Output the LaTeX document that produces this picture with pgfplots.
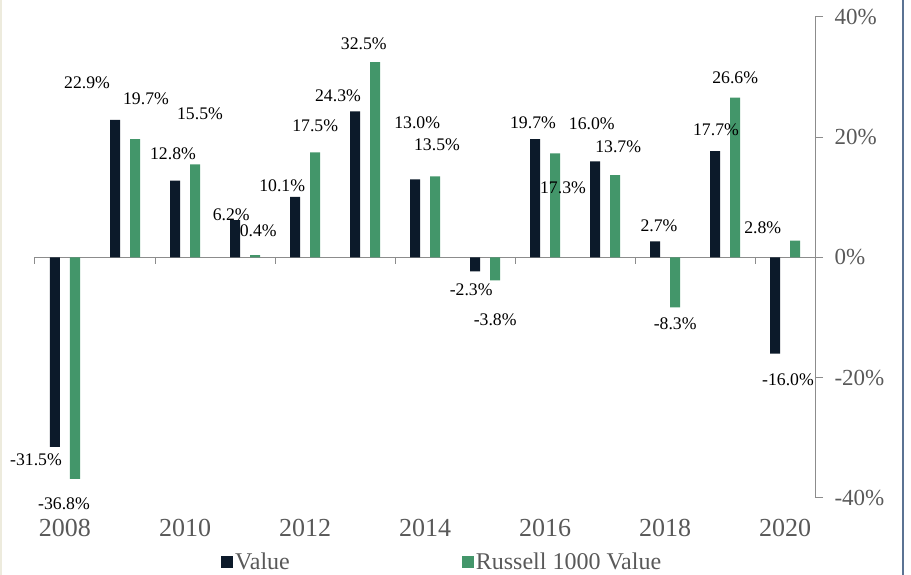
\documentclass[border=0pt]{standalone}
\usepackage{pgfplots}
\pgfplotsset{compat=1.18}
\usepackage{fontspec}
\setmainfont{LiberationSerif}[Extension=.ttf, UprightFont=*-Regular, BoldFont=*-Bold, ItalicFont=*-Italic, BoldItalicFont=*-BoldItalic]
\definecolor{darkbar}{HTML}{0C1A2A}
\definecolor{greenbar}{HTML}{43966A}
\definecolor{axgray}{HTML}{8C8C8C}
\definecolor{labgray}{HTML}{595959}
\definecolor{frameblue}{HTML}{5B7393}
\definecolor{framebeige}{HTML}{EDEBDD}
\begin{document}
\begin{tikzpicture}
\useasboundingbox (0pt,0pt) rectangle (911pt,575pt);
\fill[framebeige] (0pt,0pt) rectangle (2pt,575pt);
\fill[frameblue] (902pt,0pt) rectangle (904pt,575pt);
\begin{axis}[
  at={(35pt,77pt)}, anchor=south west,
  scale only axis, width=780pt, height=481pt,
  xmin=-0.5, xmax=12.5, ymin=-40, ymax=40,
  clip=false,
  axis y line*=right, axis x line*=bottom,
  x axis line style={draw=none},
  y axis line style={draw=axgray, line width=1pt, -},
  xtick={0,2,...,12}, xticklabels={2008,2010,2012,2014,2016,2018,2020},
  major x tick style={draw=none},
  ytick={-40,-20,0,20,40}, yticklabels={-40\%,-20\%,0\%,20\%,40\%},
  major y tick style={draw=axgray, line width=1pt},
  xtick align=inside, ytick align=outside, major tick length=8pt,
  xticklabel style={font=\fontsize{26}{26}\selectfont, text=labgray, anchor=base, yshift=-39pt},
  yticklabel style={font=\fontsize{23}{23}\selectfont, text=labgray, anchor=west, xshift=8pt},
  legend style={at={(0.2385,-0.133)}, anchor=west, draw=none, fill=none, inner sep=0pt,
    font=\fontsize{24}{24}\selectfont, text=labgray, legend columns=2,
    /tikz/every even column/.append style={column sep=170pt}},
  legend cell align=left,
  legend image code/.code={\fill[#1] (0pt,-6pt) rectangle (12pt,6pt);},
]
\draw[axgray, line width=1pt] (axis cs:-0.5,0) -- (axis cs:12.5,0);
\pgfplotsinvokeforeach{-0.5,1.5,3.5,5.5,7.5,9.5,11.5}{\draw[axgray, line width=1pt] (axis cs:#1,0) -- ++(0pt,-7pt);}
\addplot[ybar, bar width=10pt, bar shift=-10pt, fill=darkbar, draw=none] coordinates {
(0,-31.5) (1,22.9) (2,12.8) (3,6.2) (4,10.1) (5,24.3) (6,13.0) (7,-2.3) (8,19.7) (9,16.0) (10,2.7) (11,17.7) (12,-16.0)};
\addlegendentry{Value}
\addplot[ybar, bar width=10pt, bar shift=10pt, fill=greenbar, draw=none] coordinates {
(0,-36.8) (1,19.7) (2,15.5) (3,0.4) (4,17.5) (5,32.5) (6,13.5) (7,-3.8) (8,17.3) (9,13.7) (10,-8.3) (11,26.6) (12,2.8)};
\addlegendentry{Russell 1000 Value}
\addplot[forget plot, draw=none, mark=none, nodes near coords={\pgfplotspointmeta\%}, point meta=explicit symbolic,
  nodes near coords align={center},
  every node near coord/.append style={font=\fontsize{17.7}{17.7}\selectfont, text=black, inner sep=0pt, anchor=center}]
table[meta=label] {
x y label
-0.483 -33.7 -31.5
-0.017 -40.9 -36.8
0.367 29.1 22.9
1.35 26.4 19.7
1.8 17.3 12.8
2.25 23.9 15.5
2.77 7.1 6.2
3.22 4.5 0.4
3.62 12.0 10.1
4.17 21.9 17.5
4.55 26.9 24.3
4.98 35.5 32.5
5.87 22.4 13.0
6.2 18.8 13.5
6.77 -5.3 -2.3
7.17 -10.3 -3.8
7.8 22.4 19.7
8.3 11.6 17.3
8.78 22.3 16.0
9.22 18.4 13.7
9.9 5.3 2.7
10.17 -11.0 -8.3
10.85 21.3 17.7
11.17 29.9 26.6
11.63 5.0 2.8
12.05 -20.4 -16.0
};
\end{axis}
\end{tikzpicture}
\end{document}
